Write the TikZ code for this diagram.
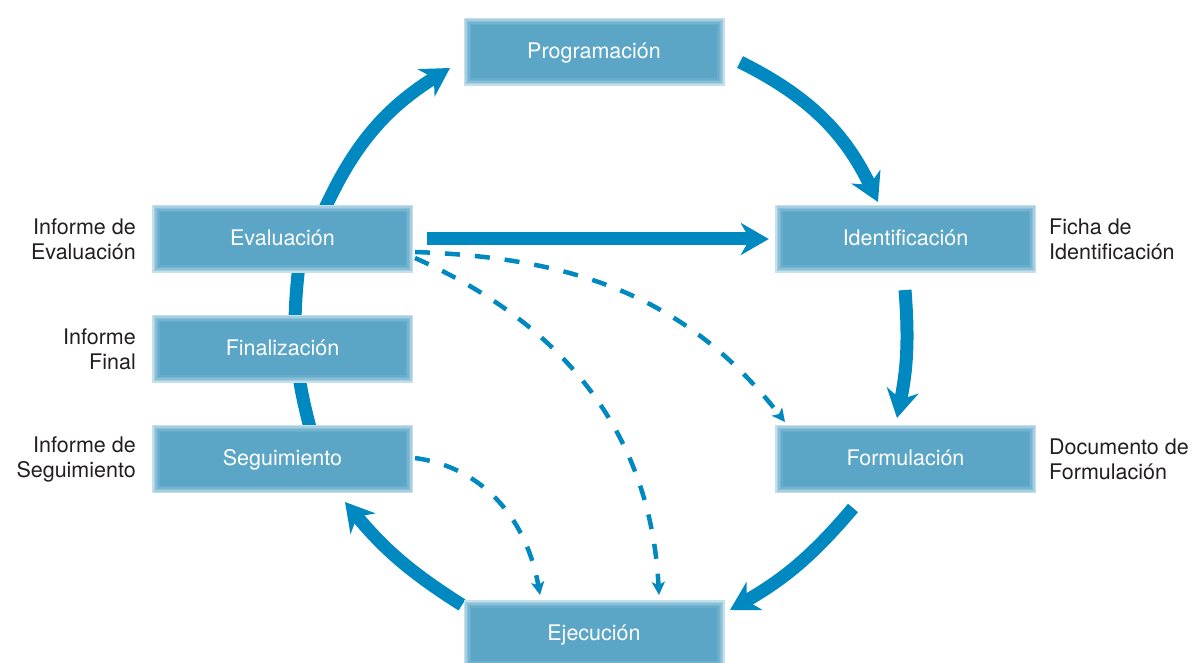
\documentclass[tikz,border=0pt]{standalone}
\usepackage{fontspec}
\setmainfont{TeX Gyre Heros}
\usetikzlibrary{arrows.meta,calc}
\definecolor{boxcol}{RGB}{91,166,199}
\definecolor{arrcol}{RGB}{0,137,192}
\definecolor{labcol}{RGB}{35,31,32}
\pgfdeclarelayer{bg}
\pgfsetlayers{bg,main}
\tikzset{
  stagebox/.style={minimum width=261pt, minimum height=68pt, inner sep=0pt,
    text height=16.7pt, text depth=3.3pt,
    fill=boxcol!35!white, text=white, font=\fontsize{21.5}{25}\selectfont,
    path picture={
      \foreach \d/\c in {1.5/55,3/72,4.5/84,6/93,7.5/100}{
        \fill[boxcol!\c!white] ($(path picture bounding box.south west)+(\d pt,\d pt)$)
          rectangle ($(path picture bounding box.north east)-(\d pt,\d pt)$);
      }
    }},
  sidelab/.style={text=labcol, inner sep=0pt, font=\fontsize{21.5}{25}\selectfont},
  flow/.style={draw=arrcol, line width=13pt, -{Stealth[length=28pt,width=32pt,inset=9pt]}},
  ring/.style={draw=arrcol, line width=13pt},
  dashflow/.style={draw=arrcol, line width=4.5pt, dash pattern=on 15pt off 15pt,
    -{Stealth[length=13pt,width=13pt,inset=3pt]}}
}
\begin{document}
\begin{tikzpicture}[x=1pt,y=1pt]
\clip (0,0) rectangle (1197,662);

% stage boxes
\node[stagebox] (prog)  at (594,610)   {Programación};
\node[stagebox] (eval)  at (282.5,423) {Evaluación};
\node[stagebox] (fin)   at (282.5,313) {Finalización};
\node[stagebox] (seg)   at (282.5,203) {Seguimiento};
\node[stagebox] (ident) at (905.5,423) {Identificación};
\node[stagebox] (form)  at (905.5,203) {Formulación};
\node[stagebox] (ejec)  at (594,28)    {Ejecución};

% side labels
\node[sidelab, anchor=east, align=right] (lev)  at (136,423) {Informe de\\Evaluación};
\node[sidelab, anchor=east, align=right] (lfin) at (136,313) {Informe\\Final};
\node[sidelab, anchor=east, align=right] (lseg) at (136,203) {Informe de\\Seguimiento};
\node[sidelab, anchor=west, align=left]  (lid)  at (1049,423) {Ficha de\\Identificación};
\node[sidelab, anchor=west, align=left]  (lfo)  at (1049,203) {Documento de\\Formulación};

% connector end points on the cycle
\coordinate (a1s) at (740,600);
\coordinate (a1e) at (878,460);
\coordinate (a2s) at (905,372);
\coordinate (a2e) at (897,244);
\coordinate (a3s) at (853,154);
\coordinate (a3e) at (730,52);
\coordinate (a4s) at (462,57);
\coordinate (a4e) at (345,160);
\coordinate (a5s) at (312,227);
\coordinate (a5e) at (299,397);
\coordinate (a6s) at (322,447);
\coordinate (a6e) at (450,594);

\begin{pgfonlayer}{bg}
\fill[white] (0,0) rectangle (1197,662);
\draw[flow] (a1s) to[bend left=19] (a1e);
\draw[flow] (a2s) to[bend left=8] (a2e);
\draw[flow] (a3s) to[bend left=10] (a3e);
\draw[flow] (a4s) to[bend left=9] (a4e);
\draw[ring] (a5s) to[bend left=11] (a5e);
\draw[flow] (a6s) to[bend left=17] (a6e);
\end{pgfonlayer}

% straight arrow
\draw[flow] ([xshift=14pt]eval.east) -- ([xshift=-6pt]ident.west);

% dashed arrows
\coordinate (d1s) at (415,410);
\coordinate (d2s) at (415,404);
\coordinate (d3s) at (415,204);
\coordinate (d1e) at (785,240);
\coordinate (d2e) at (659,67);
\coordinate (d3e) at (540,67);
\draw[dashflow] (d1s) to[out=-2,in=128] (d1e);
\draw[dashflow] (d2s) to[out=-24,in=93] (d2e);
\draw[dashflow] (d3s) to[out=-8,in=100] (d3e);
\end{tikzpicture}
\end{document}
